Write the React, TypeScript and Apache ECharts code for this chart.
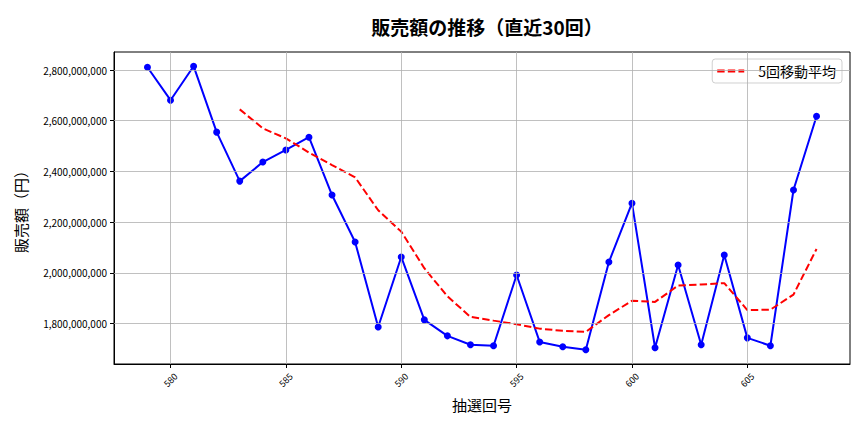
import React, { useEffect, useRef } from "react";
import * as echarts from "echarts";

// 抽選回号
const rounds: number[] = [
  579, 580, 581, 582, 583, 584, 585, 586, 587, 588,
  589, 590, 591, 592, 593, 594, 595, 596, 597, 598,
  599, 600, 601, 602, 603, 604, 605, 606, 607, 608,
];

// 販売額（円）
const sales: number[] = [
  2811000000, 2681000000, 2815000000, 2555000000, 2362000000,
  2437000000, 2485000000, 2535000000, 2307000000, 2122000000,
  1787000000, 2063000000, 1815000000, 1752000000, 1717000000,
  1713000000, 1992000000, 1728000000, 1709000000, 1697000000,
  2043000000, 2275000000, 1705000000, 2031000000, 1717000000,
  2071000000, 1744000000, 1713000000, 2327000000, 2618000000,
];

// 5回移動平均 (from round 583)
const maRounds: number[] = [
  583, 584, 585, 586, 587, 588, 589, 590, 591, 592,
  593, 594, 595, 596, 597, 598, 599, 600, 601, 602,
  603, 604, 605, 606, 607, 608,
];
const maValues: number[] = [
  2644800000, 2570000000, 2530600000, 2474600000, 2425000000,
  2377000000, 2247000000, 2162800000, 2018800000, 1907800000,
  1826800000, 1812000000, 1797800000, 1780400000, 1771800000,
  1767800000, 1833800000, 1890400000, 1885800000, 1950200000,
  1954200000, 1959800000, 1853600000, 1855200000, 1914400000,
  2094600000,
];

const xTicks: number[] = [580, 585, 590, 595, 600, 605];
const yTicks: number[] = [1800000000, 2000000000, 2200000000, 2400000000, 2600000000, 2800000000];

const FONT = "'Noto Sans CJK JP', 'Noto Sans', sans-serif";
const DASH_ICON = "path://M0,0H7.4V3H0Z M10.6,0H18V3H10.6Z M21.2,0H27V3H21.2Z";

export default function App() {
  const ref = useRef<HTMLDivElement>(null);

  useEffect(() => {
    if (!ref.current) return;
    const chart = echarts.init(ref.current, null, { renderer: "svg" });

    const xMin = 577.55;
    const xMax = 609.45;
    const yMin = 1641000000;
    const yMax = 2871000000;

    const gridMarks: any[] = [
      ...xTicks.map((v) => ({ xAxis: v })),
      ...yTicks.map((v) => ({ yAxis: v })),
    ];

    chart.setOption({
      animation: false,
      textStyle: { fontFamily: FONT },
      title: {
        text: "販売額の推移（直近30回）",
        left: 482,
        textAlign: "center",
        top: 12,
        textStyle: { fontSize: 19, fontWeight: "bold", color: "#000", fontFamily: FONT },
      },
      legend: {
        data: ["5回移動平均"],
        icon: DASH_ICON,
        right: 22,
        top: 59,
        padding: [5, 6, 5, 5],
        itemWidth: 27,
        itemHeight: 3,
        borderColor: "#d0d0d0",
        borderWidth: 1,
        borderRadius: 3,
        backgroundColor: "rgba(255,255,255,0.85)",
        itemStyle: { color: "#ff0000", borderWidth: 0, opacity: 1 },
        textStyle: { fontSize: 14, color: "#000", fontFamily: FONT, padding: [0, 0, 0, 9] },
      },
      grid: {
        left: 114,
        right: 14,
        top: 52,
        bottom: 68,
        show: true,
        borderColor: "#000",
        borderWidth: 1,
        backgroundColor: "transparent",
      },
      xAxis: {
        type: "value",
        min: xMin,
        max: xMax,
        name: "抽選回号",
        nameLocation: "middle",
        nameGap: 33,
        nameTextStyle: { fontSize: 15, color: "#000", fontFamily: FONT },
        axisLine: { show: true, lineStyle: { color: "#000", width: 1 } },
        axisTick: {
          show: true,
          customValues: xTicks,
          length: 4,
          lineStyle: { color: "#000", width: 1 },
        },
        axisLabel: {
          customValues: xTicks,
          rotate: 45,
          fontSize: 9,
          color: "#000",
          align: "center",
          verticalAlign: "middle",
          margin: 16,
          fontFamily: FONT,
        },
        splitLine: { show: false },
      },
      yAxis: {
        type: "value",
        min: yMin,
        max: yMax,
        name: "販売額（円）",
        nameLocation: "middle",
        nameGap: 86,
        nameRotate: 90,
        nameTextStyle: { fontSize: 15, color: "#000", fontFamily: FONT },
        axisLine: { show: true, lineStyle: { color: "#000", width: 1 } },
        axisTick: {
          show: true,
          customValues: yTicks,
          length: 4,
          lineStyle: { color: "#000", width: 1 },
        },
        axisLabel: {
          customValues: yTicks,
          fontSize: 10,
          color: "#000",
          margin: 7,
          fontFamily: FONT,
          formatter: (v: number) => Math.round(v).toLocaleString("en-US"),
        },
        splitLine: { show: false },
      },
      series: [
        {
          name: "grid",
          type: "line",
          data: [],
          z: 1,
          silent: true,
          markLine: {
            silent: true,
            symbol: ["none", "none"],
            label: { show: false },
            emphasis: { disabled: true },
            lineStyle: { color: "#b0b0b0", width: 0.8, type: "solid" },
            data: gridMarks,
          },
        },
        {
          name: "販売額",
          type: "line",
          z: 3,
          data: rounds.map((r, i) => [r, sales[i]]),
          symbol: "circle",
          symbolSize: 7,
          itemStyle: { color: "#0000ff" },
          lineStyle: { color: "#0000ff", width: 2 },
          emphasis: { disabled: true },
        },
        {
          name: "5回移動平均",
          type: "line",
          z: 4,
          data: maRounds.map((r, i) => [r, maValues[i]]),
          symbol: "none",
          itemStyle: { color: "#ff0000" },
          lineStyle: { color: "#ff0000", width: 2, type: [7.4, 3.2] },
          emphasis: { disabled: true },
        },
      ],
    });

    return () => chart.dispose();
  }, []);

  return <div ref={ref} style={{ width: 864, height: 432, margin: -8 }} />;
}
